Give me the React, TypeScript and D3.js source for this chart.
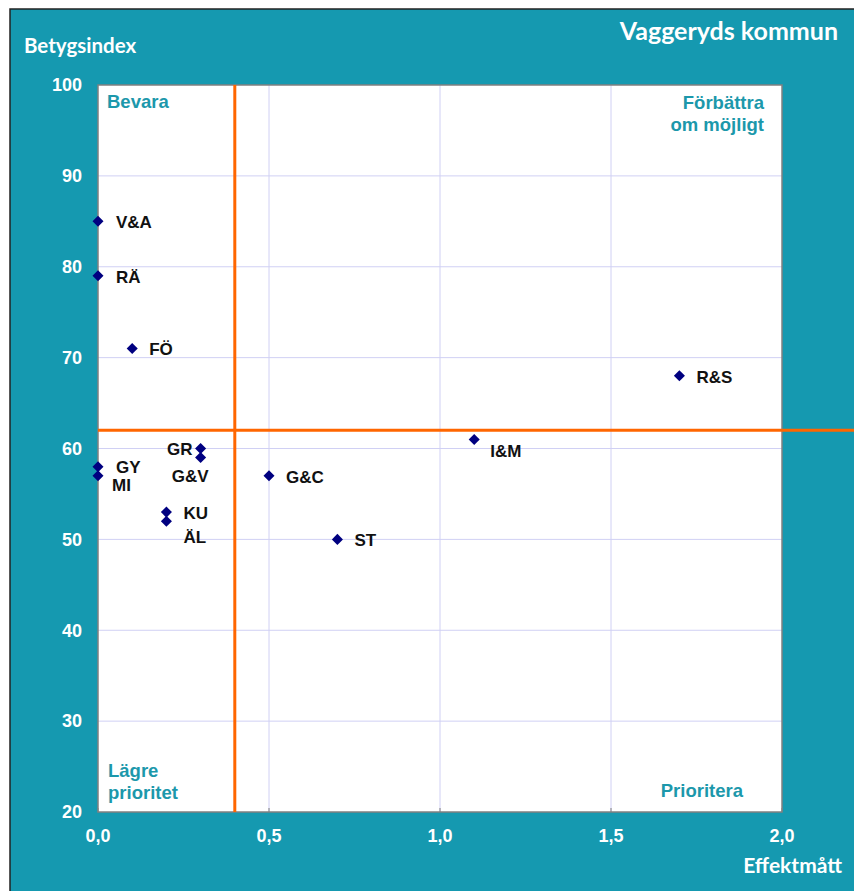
import React from 'react';
import * as d3 from 'd3';

const codes = ['V&A', 'RÄ', 'FÖ', 'R&S', 'I&M', 'GR', 'G&V', 'GY', 'MI', 'G&C', 'KU', 'ÄL', 'ST'];
const effekt = [0, 0, 0.1, 1.7, 1.1, 0.3, 0.3, 0, 0, 0.5, 0.2, 0.2, 0.7];
const betyg = [85, 79, 71, 68, 61, 60, 59, 58, 57, 57, 53, 52, 50];
// label offsets from the marker [dx, dy, anchor]
const labelPos: [number, number, string][] = [
  [18, 1, 'start'], [18, 1, 'start'], [17, 1, 'start'], [17, 1, 'start'],
  [16, 12, 'start'], [-8, 1, 'end'], [8, 18, 'end'], [18, 0, 'start'],
  [14, 9, 'start'], [17, 1, 'start'], [17, 1, 'start'], [17, 16, 'start'], [17, 1, 'start'],
];
const xTicks = [0, 0.5, 1.0, 1.5, 2.0];
const yTicks = [20, 30, 40, 50, 60, 70, 80, 90, 100];
const xCut = 0.4;
const yCut = 62;

const W = 854;
const H = 891;
const teal = '#1599b0';
const labelTeal = '#1c98ab';
const bold = '"Liberation Sans", Arial, sans-serif';
const title = 'Lato, "Open Sans", sans-serif';

export default function App() {
  const svgRef = React.useRef<SVGSVGElement | null>(null);

  React.useEffect(() => {
    const svg = d3.select(svgRef.current);
    svg.selectAll('*').remove();

    const x = d3.scaleLinear().domain([0, 2]).range([98, 782]);
    const y = d3.scaleLinear().domain([20, 100]).range([812, 85]);

    // frame: teal panel, dark edge only top and left
    svg.append('rect').attr('width', W).attr('height', H).attr('fill', '#fff');
    svg.append('rect').attr('x', 10).attr('y', 9).attr('width', W - 10).attr('height', H - 9).attr('fill', teal);
    svg.append('path').attr('d', `M10,${H}V9H${W}`).attr('fill', 'none').attr('stroke', '#222').attr('stroke-width', 1.5);

    svg.append('rect').attr('x', x(0)).attr('y', y(100)).attr('width', x(2) - x(0)).attr('height', y(20) - y(100))
      .attr('fill', '#fff');

    // grid
    const grid = svg.append('g').attr('stroke', '#d0d0f4').attr('stroke-width', 1);
    grid.selectAll('line.h').data(yTicks.slice(1, -1)).join('line')
      .attr('x1', x(0)).attr('x2', x(2)).attr('y1', d => y(d)).attr('y2', d => y(d));
    grid.selectAll('line.v').data(xTicks.slice(1, -1)).join('line')
      .attr('y1', y(100)).attr('y2', y(20)).attr('x1', d => x(d)).attr('x2', d => x(d));

    // plot border
    svg.append('rect').attr('x', x(0)).attr('y', y(100)).attr('width', x(2) - x(0)).attr('height', y(20) - y(100))
      .attr('fill', 'none').attr('stroke', '#808080').attr('stroke-width', 1.5);

    // small tick marks at bottom
    svg.append('g').selectAll('line').data(xTicks).join('line')
      .attr('x1', d => x(d)).attr('x2', d => x(d)).attr('y1', y(20) - 4).attr('y2', y(20))
      .attr('stroke', '#808080');

    // quadrant lines
    svg.append('line').attr('x1', x(xCut)).attr('x2', x(xCut)).attr('y1', y(100)).attr('y2', y(20))
      .attr('stroke', '#ff6600').attr('stroke-width', 3);
    svg.append('line').attr('x1', x(0)).attr('x2', x(2) + 72).attr('y1', y(yCut)).attr('y2', y(yCut))
      .attr('stroke', '#ff6600').attr('stroke-width', 3);

    // tick labels
    svg.append('g').selectAll('text').data(yTicks).join('text')
      .attr('x', 82).attr('y', d => y(d)).attr('dy', '0.35em').attr('text-anchor', 'end')
      .attr('fill', '#fff').attr('font-family', bold).attr('font-weight', 'bold').attr('font-size', 18)
      .text(d => d);
    svg.append('g').selectAll('text').data(xTicks).join('text')
      .attr('x', d => x(d)).attr('y', 836).attr('dy', '0.35em').attr('text-anchor', 'middle')
      .attr('fill', '#fff').attr('font-family', bold).attr('font-weight', 'bold').attr('font-size', 18)
      .text(d => d3.format('.1f')(d).replace('.', ','));

    // titles
    svg.append('text').attr('x', 838).attr('y', 31).attr('dy', '0.35em').attr('text-anchor', 'end')
      .attr('fill', '#fff').attr('font-family', title).attr('font-weight', 'bold').attr('font-size', 25)
      .text('Vaggeryds kommun');
    svg.append('text').attr('x', 24).attr('y', 46).attr('dy', '0.35em')
      .attr('fill', '#fff').attr('font-family', title).attr('font-weight', 'bold').attr('font-size', 20.5)
      .text('Betygsindex');
    svg.append('text').attr('x', 842).attr('y', 866).attr('dy', '0.35em').attr('text-anchor', 'end')
      .attr('fill', '#fff').attr('font-family', title).attr('font-weight', 'bold').attr('font-size', 21)
      .text('Effektmått');

    // quadrant labels
    const q = svg.append('g').attr('fill', labelTeal).attr('font-family', bold).attr('font-weight', 'bold').attr('font-size', 18.5);
    q.append('text').attr('x', 107).attr('y', 102).attr('dy', '0.35em').text('Bevara');
    q.append('text').attr('x', 764).attr('y', 103).attr('dy', '0.35em').attr('text-anchor', 'end').text('Förbättra');
    q.append('text').attr('x', 764).attr('y', 125).attr('dy', '0.35em').attr('text-anchor', 'end').text('om möjligt');
    q.append('text').attr('x', 108).attr('y', 771).attr('dy', '0.35em').text('Lägre');
    q.append('text').attr('x', 108).attr('y', 793).attr('dy', '0.35em').text('prioritet');
    q.append('text').attr('x', 743).attr('y', 791).attr('dy', '0.35em').attr('text-anchor', 'end').text('Prioritera');

    // points
    const pts = codes.map((c, i) => ({ c, x: effekt[i], y: betyg[i], l: labelPos[i] }));
    const diamond = d3.symbol().type(d3.symbolDiamond2).size(78);
    svg.append('g').selectAll('path').data(pts).join('path')
      .attr('transform', d => `translate(${x(d.x)},${y(d.y)})`)
      .attr('d', diamond as any).attr('fill', '#000080');
    svg.append('g').selectAll('text').data(pts).join('text')
      .attr('x', d => x(d.x) + d.l[0]).attr('y', d => y(d.y) + d.l[1]).attr('dy', '0.35em')
      .attr('text-anchor', d => d.l[2])
      .attr('fill', '#111').attr('font-family', bold).attr('font-weight', 'bold').attr('font-size', 17)
      .text(d => d.c);
  }, []);

  return (
    <div style={{ position: 'fixed', left: 0, top: 0 }}>
      <svg ref={svgRef} width={W} height={H} style={{ display: 'block' }} />
    </div>
  );
}
